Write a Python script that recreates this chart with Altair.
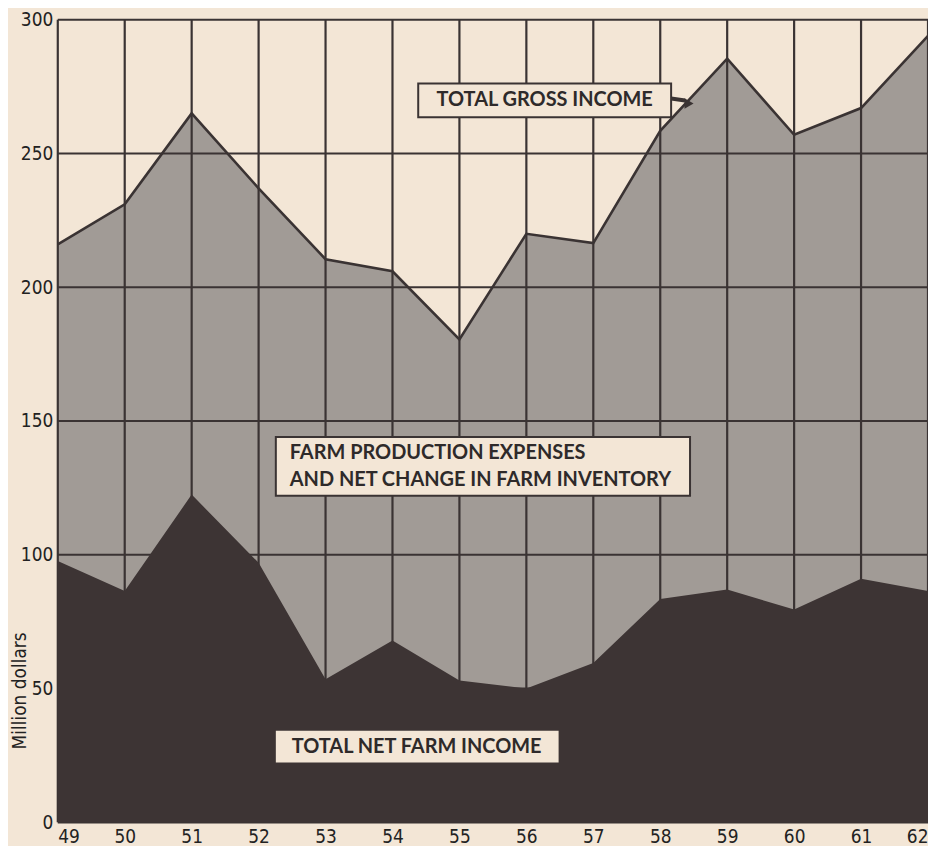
import altair as alt
import pandas as pd

years = [49, 50, 51, 52, 53, 54, 55, 56, 57, 58, 59, 60, 61, 62]
gross_income = [216, 231, 265, 237, 210.5, 206, 180.5, 220, 216.5, 258.5, 285.5, 257, 267, 294]
net_income = [97.7, 86.5, 122.5, 97, 53.5, 68, 53, 50, 59.5, 83.5, 87, 79.5, 91, 86.5]
y_ticks = [0, 50, 100, 150, 200, 250, 300]

W, H = 874, 806
BG = "#f3e6d6"
INK = "#3a3333"
AXFONT = "DejaVu Sans Condensed, DejaVu Sans, sans-serif"
LBLFONT = "Lato"

df = pd.DataFrame({"year": years, "gross": gross_income, "net": net_income})
vdf = pd.DataFrame({"year": years})
hdf = pd.DataFrame({"tick": y_ticks})

xs = alt.Scale(domain=[49, 62], nice=False, zero=False)
ys = alt.Scale(domain=[0, 300], nice=False)

xaxis = alt.Axis(values=years, format="d", domain=False, ticks=False, grid=False,
                 labelFont=AXFONT, labelFontSize=19, labelColor="#222", labelPadding=5, title=None)
yaxis = alt.Axis(values=y_ticks, format="d", domain=False, ticks=False, grid=False,
                 labelFont=AXFONT, labelFontSize=19, labelColor="#222", labelPadding=5, title=None)

base = alt.Chart(df)

gross_area = base.mark_area(color="#a19b96", opacity=1).encode(
    x=alt.X("year:Q", scale=xs, axis=xaxis),
    y=alt.Y("gross:Q", scale=ys, axis=yaxis),
)

grid_v = alt.Chart(vdf).mark_rule(color=INK, strokeWidth=2.2).encode(
    x=alt.X("year:Q", scale=xs), y=alt.value(0), y2=alt.value(H)
)
grid_h = alt.Chart(hdf).mark_rule(color=INK, strokeWidth=2.2).encode(
    y=alt.Y("tick:Q", scale=ys), x=alt.value(0), x2=alt.value(W)
)

gross_line = base.mark_line(color=INK, strokeWidth=2.6).encode(
    x=alt.X("year:Q", scale=xs), y=alt.Y("gross:Q", scale=ys)
)

net_area = base.mark_area(color="#3d3434", opacity=1).encode(
    x=alt.X("year:Q", scale=xs), y=alt.Y("net:Q", scale=ys)
)

one = pd.DataFrame({"a": [0]})

def box(x1, x2, y1, y2, stroke=True):
    kw = dict(fill=BG)
    if stroke:
        kw.update(stroke=INK, strokeWidth=2)
    return alt.Chart(one).mark_rect(**kw).encode(
        x=alt.value(x1), x2=alt.value(x2), y=alt.value(y1), y2=alt.value(y2)
    )

def label(txt, x, y, align="left"):
    return alt.Chart(one).mark_text(
        text=txt, font=LBLFONT, fontWeight="bold", fontSize=20, color="#2e2a2a",
        align=align, baseline="middle"
    ).encode(x=alt.value(x), y=alt.value(y))

box1 = box(362, 616, 64, 98)
lab1 = label("TOTAL GROSS INCOME", 489, 81, align="center")
arrow_line = alt.Chart(one).mark_rule(color=INK, strokeWidth=4).encode(
    x=alt.value(616), x2=alt.value(630), y=alt.value(79), y2=alt.value(81)
)
arrow_head = alt.Chart(one).mark_point(shape="triangle-right", filled=True, color=INK, size=110, opacity=1).encode(
    x=alt.value(634), y=alt.value(84)
)

box2 = box(219, 635, 419, 478)
lab2a = label("FARM PRODUCTION EXPENSES", 233, 435)
lab2b = label("AND NET CHANGE IN FARM INVENTORY", 233, 462)

box3 = box(219, 503, 714, 746, stroke=False)
lab3 = label("TOTAL NET FARM INCOME", 235, 730)

ytitle = alt.Chart(one).mark_text(
    text="Million dollars", font=AXFONT, fontSize=19, color="#222", angle=270,
    align="center", baseline="middle"
).encode(x=alt.value(-38), y=alt.value(674))

chart = alt.layer(
    gross_area, grid_v, grid_h, gross_line, net_area,
    box1, lab1, arrow_line, arrow_head,
    box2, lab2a, lab2b,
    box3, lab3, ytitle,
).properties(
    width=W, height=H, background=BG,
    autosize=alt.AutoSizeParams(type="none"),
    padding={"left": 50, "top": 10, "right": 0, "bottom": 22},
).configure_view(stroke=None)

chart.save("out.html", embed_options={"renderer": "svg", "actions": False})
